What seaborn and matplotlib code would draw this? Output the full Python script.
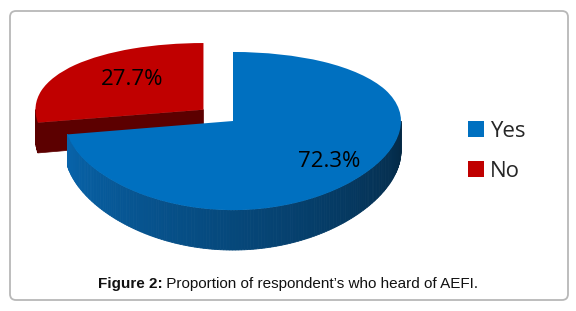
import numpy as np
import matplotlib
matplotlib.use("Agg")
import matplotlib.pyplot as plt
from matplotlib.patches import Polygon, FancyBboxPatch
import matplotlib.colors as mcolors
import seaborn as sns

# ---- data ----
categories = ["Yes", "No"]
percentages = [72.3, 27.7]
caption_bold = "Figure 2:"
caption_text = " Proportion of respondent\u2019s who heard of AEFI."

# ---- style ----
top_colors = ["#0070C0", "#C00000"]
side_light = ["#0868b2", "#5c0000"]
side_dark = ["#042844", "#480000"]
explode = [0, 0.23]
label_r = [0.75, 0.6]
label_dang = [0, -5]

sns.set_theme(style="white")
plt.rcParams["font.family"] = ["Open Sans", "DejaVu Sans"]

W, H = 576, 311
fig = plt.figure(figsize=(W / 100, H / 100), dpi=100)
ax = fig.add_axes([0, 0, 1, 1])

RX = 168.0                  # pixels per data unit horizontally
SY = 77.8                   # pixels per projected unit vertically
CX, CY = 233.0, 121.0       # pie centre in pixels (from left / top)
K = 0.127                   # perspective strength
DEPTH = 0.37                # slab thickness in data units

wedges, texts, autotexts = ax.pie(
    percentages, colors=top_colors, startangle=90, counterclock=False,
    explode=explode, autopct="%1.1f%%", pctdistance=0.7,
    wedgeprops=dict(linewidth=0),
    textprops=dict(fontsize=16, color="black"))
ax.set_aspect("auto")


def persp(y):
    y = np.asarray(y, dtype=float)
    return y / (1 + K * y)


def persp_inv(f):
    f = np.asarray(f, dtype=float)
    return f / (1 - K * f)


ax.set_yscale("function", functions=(persp, persp_inv))
ax.set_xlim(-CX / RX, (W - CX) / RX)
ax.set_ylim(float(persp_inv(-(H - CY) / SY)), float(persp_inv(CY / SY)))
ax.axis("off")


def visible_ranges(t1, t2):
    out = []
    for k in range(-3, 3):
        a, b = 180 + 360 * k, 360 + 360 * k
        lo, hi = max(t1, a), min(t2, b)
        if hi > lo:
            out.append((lo, hi))
    return out


def side_col(i, ang):
    t = ((ang % 360) - 180) / 180.0
    t = min(max(t, 0), 1)
    c1 = np.array(mcolors.to_rgb(side_light[i]))
    c2 = np.array(mcolors.to_rgb(side_dark[i]))
    return tuple(c1 + (c2 - c1) * t)


base_z = {1: 1, 0: 3}  # red behind, blue in front
for i, w in enumerate(wedges):
    cx, cy = w.center
    r = w.r
    t1, t2 = w.theta1, w.theta2
    z = base_z[i]
    w.set_zorder(z + 1)
    # radial faces
    for th, normal in ((t1, t1 - 90), (t2, t2 + 90)):
        if np.sin(np.radians(normal)) < -1e-3:
            a = np.radians(th)
            px, py = cx + r * np.cos(a), cy + r * np.sin(a)
            poly = Polygon([(cx, cy), (px, py), (px, py - DEPTH), (cx, cy - DEPTH)],
                           closed=True, facecolor=side_light[i], edgecolor=side_light[i],
                           linewidth=0.5, zorder=z)
            ax.add_patch(poly)
    # outer curved face
    for lo, hi in visible_ranges(t1, t2):
        n = max(int((hi - lo) / 1.0), 1)
        angs = np.linspace(lo, hi, n + 1)
        for a0, a1 in zip(angs[:-1], angs[1:]):
            r0, r1 = np.radians(a0), np.radians(a1)
            pts = [(cx + r * np.cos(r0), cy + r * np.sin(r0)),
                   (cx + r * np.cos(r1), cy + r * np.sin(r1)),
                   (cx + r * np.cos(r1), cy + r * np.sin(r1) - DEPTH),
                   (cx + r * np.cos(r0), cy + r * np.sin(r0) - DEPTH)]
            c = side_col(i, (a0 + a1) / 2)
            ax.add_patch(Polygon(pts, closed=True, facecolor=c, edgecolor=c,
                                 linewidth=0.6, zorder=z))

# percentage labels
for i, (w, t) in enumerate(zip(wedges, autotexts)):
    cx, cy = w.center
    mid = np.radians((w.theta1 + w.theta2) / 2 + label_dang[i])
    t.set_position((cx + label_r[i] * np.cos(mid), cy + label_r[i] * np.sin(mid)))
    t.set_zorder(10)

# legend
leg = ax.legend(wedges, categories, loc="upper left",
                bbox_to_anchor=(468 / W, 1 - 121 / H), bbox_transform=fig.transFigure,
                frameon=False, fontsize=16, handlelength=0.7, handleheight=0.7,
                handletextpad=0.3, labelspacing=0.85, borderpad=0, borderaxespad=0)

# border
box = FancyBboxPatch((10 / 100, (H - 300) / 100), 558 / 100, 289 / 100,
                     boxstyle="round,pad=0,rounding_size=0.06",
                     transform=fig.dpi_scale_trans, facecolor="none",
                     edgecolor="#b8b8b8", linewidth=1.3)
fig.patches.append(box)

# caption
cap_y = 1 - 284 / H
tb = fig.text(0, cap_y, caption_bold, fontweight="bold", family=["Liberation Sans"],
              fontsize=11, va="center", ha="left", color="#111111")
tn = fig.text(0, cap_y, caption_text, family=["Liberation Sans"],
              fontsize=11, va="center", ha="left", color="#111111")
fig.canvas.draw()
rnd = fig.canvas.get_renderer()
wb = tb.get_window_extent(rnd).width
wn = tn.get_window_extent(rnd).width
x0 = 288 - (wb + wn) / 2
tb.set_x(x0 / W)
tn.set_x((x0 + wb) / W)

fig.savefig("out.png", dpi=100)
